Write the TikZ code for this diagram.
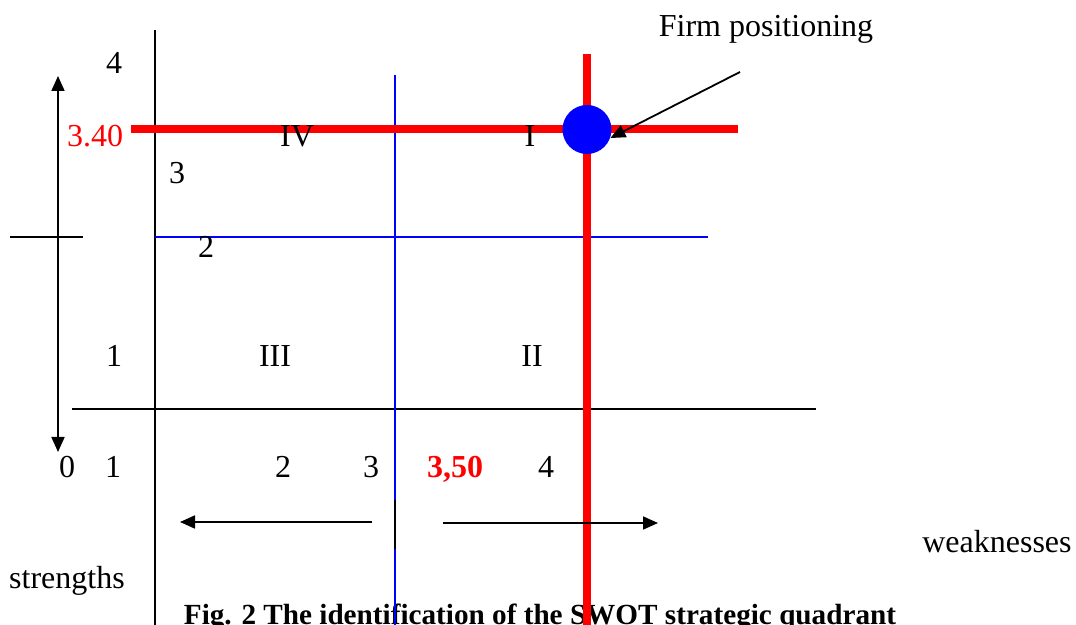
\documentclass[tikz,border=0pt]{standalone}
\usepackage{fontspec}
\setmainfont{Liberation Serif}
\usetikzlibrary{arrows.meta}
\newcommand{\figfont}{\fontsize{16}{19}\selectfont}

\begin{document}
\begin{tikzpicture}[x=0.5pt, y=-0.5pt, font=\figfont,
    lbl/.style={inner sep=0pt, anchor=base},
    axis/.style={line width=0.9pt},
    midline/.style={blue, line width=0.8pt},
    posline/.style={red, line width=4pt},
    tip/.style={-{Triangle[length=7.5pt, width=6.5pt]}, line width=0.9pt},
    twotips/.style={{Triangle[length=7.5pt, width=6.5pt]}-{Triangle[length=7.5pt, width=6.5pt]}, line width=0.9pt}]
  \useasboundingbox (0,0) rectangle (1076,625);

  % caption first, the lines run over it
  \node[lbl, font=\fontsize{14.6}{17}\selectfont\bfseries] (caption) at (540,624)
    {Fig. 2 The identification of the SWOT strategic quadrant};

  % axes
  \coordinate (vtop) at (155,30);
  \coordinate (vbot) at (155,625);
  \coordinate (hleft) at (72,409);
  \coordinate (hright) at (816,409);
  \draw[axis] (vtop) -- (vbot);
  \draw[axis] (hleft) -- (hright);

  % blue middle lines
  \coordinate (mvtop) at (395,75);
  \coordinate (mvbot) at (395,625);
  \coordinate (mhleft) at (155,237);
  \coordinate (mhright) at (708,237);
  \draw[midline] (mvtop) -- (mvbot);
  \draw[midline] (mhleft) -- (mhright);

  % red position lines
  \coordinate (phleft) at (131,129);
  \coordinate (phright) at (738,129);
  \coordinate (pvtop) at (587,54);
  \coordinate (pvbot) at (587,625);
  \draw[posline] (phleft) -- (phright);
  \draw[posline] (pvtop) -- (pvbot);

  \node[circle, fill=blue, inner sep=0pt, minimum size=24.5pt] (firm) at (587,129.5) {};
  \node[lbl] (firmlbl) at (766,37) {Firm positioning};
  \coordinate (ptr) at (740,72);
  \draw[tip] (ptr) -- (firm.-20);

  % left scale
  \coordinate (sup) at (58,76);
  \coordinate (sdown) at (58,452);
  \draw[twotips] (sup) -- (sdown);
  \coordinate (crossl) at (10,237);
  \coordinate (crossr) at (83,237);
  \draw[axis] (crossl) -- (crossr);

  % bottom arrows
  \coordinate (lstart) at (372,522);
  \coordinate (lend) at (180,522);
  \coordinate (rstart) at (443,523);
  \coordinate (rend) at (658,523);
  \draw[tip] (lstart) -- (lend);
  \draw[tip] (rstart) -- (rend);
  \coordinate (ticktop) at (395,500);
  \coordinate (tickbot) at (395,549);
  \draw[line width=1.2pt] (ticktop) -- (tickbot);

  % vertical values
  \node[lbl] (y4) at (114,74) {4};
  \node[lbl, red] (ypos) at (95,147) {3.40};
  \node[lbl] (y3) at (177,184) {3};
  \node[lbl] (y2) at (206,258) {2};
  \node[lbl] (y1) at (114,367) {1};

  % quadrants
  \node[lbl] (qIV) at (297,147) {IV};
  \node[lbl] (qI) at (530,147) {I};
  \node[lbl] (qIII) at (275,367) {III};
  \node[lbl] (qII) at (532,367) {II};

  % horizontal values
  \node[lbl] (x0) at (67,478) {0};
  \node[lbl] (x1) at (113,478) {1};
  \node[lbl] (x2) at (283,478) {2};
  \node[lbl] (x3) at (371,478) {3};
  \node[lbl, red, font=\figfont\bfseries] (xpos) at (455,478) {3,50};
  \node[lbl] (x4) at (546,478) {4};

  \node[lbl] (weak) at (997,552) {weaknesses};
  \node[lbl] (strong) at (67,588) {strengths};
\end{tikzpicture}
\end{document}
